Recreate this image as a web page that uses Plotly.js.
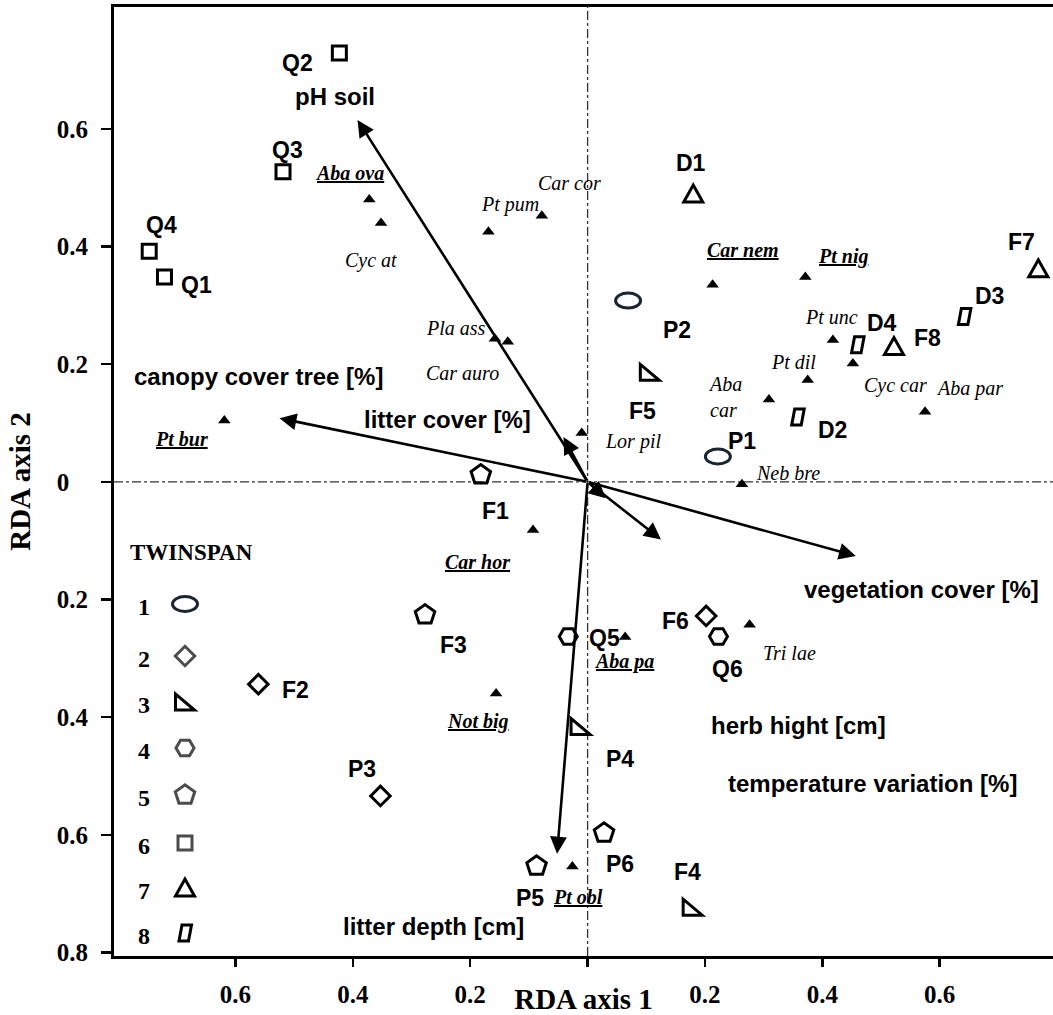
<!DOCTYPE html>
<html><head><meta charset="utf-8">
<script src="https://cdn.plot.ly/plotly-3.0.1.min.js"></script>
<style>html,body{margin:0;padding:0;background:#fff}#chart{width:1053px;height:1015px}</style>
</head><body><div id="chart"></div>
<script>
// ---- Sample (site) scores, TWINSPAN group of each sample ----
const siteNames = ['P2','P1','F2','P3','F6','F5','P4','F4','Q5','Q6','F1','F3','P6','P5','Q2','Q3','Q4','Q1','D1','F7','F8','D3','D4','D2'];
const siteGroup = [1,1,2,2,2,3,3,3,4,4,5,5,5,5,6,6,6,6,7,7,7,8,8,8];
const siteX = [0.069,0.222,-0.561,-0.353,0.202,0.106,-0.012,0.179,-0.033,0.223,-0.182,-0.277,0.028,-0.087,-0.423,-0.519,-0.747,-0.721,0.180,0.768,0.522,0.642,0.460,0.358];
const siteY = [0.308,0.043,-0.344,-0.534,-0.228,0.186,-0.416,-0.723,-0.263,-0.263,0.012,-0.226,-0.597,-0.653,0.729,0.527,0.392,0.348,0.489,0.362,0.230,0.281,0.233,0.110];

// ---- Species scores ----
const speciesNames = ['Aba ova','Cyc at','Pt pum','Car cor','Car nem','Pt nig','Pt unc','Cyc car','Pt dil','Aba car','Aba par','Neb bre','Tri lae','Pt bur','Pla ass','Car auro','Lor pil','Car hor','Aba pa','Not big','Pt obl'];
const speciesX = [-0.372,-0.352,-0.169,-0.078,0.213,0.371,0.418,0.452,0.375,0.309,0.575,0.263,0.276,-0.619,-0.158,-0.136,-0.010,-0.093,0.064,-0.156,-0.026];
const speciesY = [0.480,0.440,0.425,0.452,0.335,0.348,0.241,0.201,0.173,0.140,0.119,-0.004,-0.243,0.104,0.243,0.238,0.083,-0.082,-0.264,-0.360,-0.654];
const speciesUnderlined = [true,false,false,false,true,true,false,false,false,false,false,false,false,true,false,false,false,true,true,true,true];

// ---- Environmental variables (arrow tips) ----
const envNames = ['pH soil','canopy cover tree [%]','litter cover [%]','vegetation cover [%]','herb hight [cm]','temperature variation [%]','litter depth [cm]'];
const envX = [-0.392,-0.525,-0.041,0.457,0.031,0.125,-0.052];
const envY = [0.615,0.108,0.076,-0.126,-0.028,-0.098,-0.632];

// ---- Axis ticks ----
const xTickVals = [-0.6,-0.4,-0.2,0,0.2,0.4,0.6];
const xTickText = ['0.6','0.4','0.2','','0.2','0.4','0.6'];
const yTickVals = [-0.8,-0.6,-0.4,-0.2,0,0.2,0.4,0.6];
const yTickText = ['0.8','0.6','0.4','0.2','0\u00a0\u00a0\u00a0','0.2','0.4','0.6'];
const groupLabels = ['1','2','3','4','5','6','7','8'];

// ---- Layout / style (pixel offsets of labels, sizes) ----
const W = 1053, H = 1015;
const M = {l:114, r:0, t:7, b:59};
const xRange = [-0.807, 0.793], yRange = [-0.806, 0.807];
const pw = W - M.l - M.r, ph = H - M.t - M.b;
const px2x = px => xRange[0] + (px - M.l) / pw * (xRange[1] - xRange[0]);
const py2y = py => yRange[1] - (py - M.t) / ph * (yRange[1] - yRange[0]);
const STROKE = 3;

const siteLabelOff = {P2:[49,29],P1:[24,-16],F2:[37,6],P3:[-18,-27],F6:[-31,5],F5:[-7,39],P4:[39,32],F4:[-5,-35],
  Q5:[36,1],Q6:[9,32],F1:[15,36],F3:[28,30],P6:[16,31],P5:[-7,32],Q2:[-42,10],Q3:[4,-22],Q4:[12,-26],Q1:[32,8],
  D1:[-2,-31],F7:[-17,-27],F8:[34,-8],D3:[25,-20],D4:[24,-22],D2:[35,13]};
const speciesLabelOff = {'Aba ova':[-20,-26],'Cyc at':[-10,38],'Pt pum':[22,-27],'Car cor':[28,-33],'Car nem':[30,-35],
  'Pt nig':[38,-21],'Pt unc':[-1,-23],'Cyc car':[43,22],'Pt dil':[-14,-18],'Aba car':[-63,-2],'Aba par':[44,-23],
  'Neb bre':[46,-11],'Tri lae':[40,28],'Pt bur':[-43,18],'Pla ass':[-39,-11],'Car auro':[-45,31],'Lor pil':[51,9],
  'Car hor':[-56,32],'Aba pa':[-1,24],'Not big':[-18,28],'Pt obl':[6,30]};
const envLabelOff = [[-23,-23],[-21,-42],[-116,-18],[66,34],[193,227],[212,244],[-124,73]];

// native plotly symbols
const nativeSym = {2:{s:'diamond-open',size:15},4:{s:'hexagon2-open',size:18},5:{s:'pentagon-open',size:20.5},6:{s:'square-open',size:14}};
// custom glyphs drawn as pixel-sized shapes anchored at data values (y up)
const customSym = {
  1:{type:'circle', x0:-12.5, x1:12.5, y0:-7.5, y1:7.5, color:'#1b2433'},
  3:{type:'path', path:'M-9.5,8L-9.5,-8L9.5,-8Z', color:'#000'},
  7:{type:'path', path:'M-9.5,-8L9.5,-8L0,9Z', color:'#000'},
  8:{type:'path', path:'M-6,-8L3.5,-8L6.5,8L-3,8Z', color:'#000'}
};
const legendRowPx = [604,656,702,748,795,843,888,933];
const legendSymPx = 185, legendNumPx = 144;

function glyph(g, xa, ya){
  const c = customSym[g];
  const s = {type:c.type, xref:'x', yref:'y', xsizemode:'pixel', ysizemode:'pixel', xanchor:xa, yanchor:ya,
             line:{color:c.color, width:STROKE}, fillcolor:'rgba(0,0,0,0)', layer:'above'};
  if(c.type==='circle'){ s.x0=c.x0; s.x1=c.x1; s.y0=c.y0; s.y1=c.y1; } else { s.path=c.path; }
  return s;
}

const traces = [];
// species
traces.push({type:'scatter', mode:'markers', x:speciesX, y:speciesY, text:speciesNames, name:'species',
  marker:{symbol:'triangle-up', size:11, color:'#000'}, cliponaxis:false, hoverinfo:'text'});
// sites with native symbols
Object.keys(nativeSym).forEach(k=>{
  const g = +k, idx = siteGroup.map((v,i)=>v===g?i:-1).filter(i=>i>=0);
  traces.push({type:'scatter', mode:'markers', name:'group '+g,
    x:idx.map(i=>siteX[i]), y:idx.map(i=>siteY[i]), text:idx.map(i=>siteNames[i]),
    marker:{symbol:nativeSym[g].s, size:nativeSym[g].size, color:'#000', line:{width:STROKE, color:'#000'}},
    cliponaxis:false, hoverinfo:'text'});
});
// legend glyphs (native)
const legNative = [2,4,5,6];
traces.push({type:'scatter', mode:'markers', name:'legend',
  x:legNative.map(()=>px2x(legendSymPx)), y:legNative.map(g=>py2y(legendRowPx[g-1])),
  marker:{symbol:legNative.map(g=>nativeSym[g].s), size:legNative.map(g=>nativeSym[g].size), color:'#000', line:{width:STROKE,color:'#000'}},
  cliponaxis:false, hoverinfo:'skip'});

const shapes = [
  {type:'line', xref:'x', yref:'paper', x0:0, x1:0, y0:0, y1:1, line:{color:'#333', width:1.3, dash:'dashdot'}, layer:'below'},
  {type:'line', xref:'paper', yref:'y', x0:0, x1:1, y0:0, y1:0, line:{color:'#333', width:1.3, dash:'dashdot'}, layer:'below'}
];
siteNames.forEach((n,i)=>{ if(customSym[siteGroup[i]]) shapes.push(glyph(siteGroup[i], siteX[i], siteY[i])); });
[1,3,7,8].forEach(g=>shapes.push(glyph(g, px2x(legendSymPx), py2y(legendRowPx[g-1]))));

const ann = [];
// arrows
envNames.forEach((n,i)=>{
  ann.push({x:envX[i], y:envY[i], xref:'x', yref:'y', ax:0, ay:0, axref:'x', ayref:'y', text:'', showarrow:true,
    arrowhead:2, arrowsize:1.3, arrowwidth:2.6, arrowcolor:'#000', standoff:0, startstandoff:0});
  ann.push({x:envX[i], y:envY[i], xref:'x', yref:'y', text:n, showarrow:false, xanchor:'center', yanchor:'middle',
    xshift:envLabelOff[i][0], yshift:-envLabelOff[i][1],
    font:{family:'Liberation Sans, Arial, sans-serif', size:24, color:'#000', weight:'bold'}});
});
// site labels
siteNames.forEach((n,i)=>{
  const o = siteLabelOff[n];
  ann.push({x:siteX[i], y:siteY[i], xref:'x', yref:'y', text:n, showarrow:false, xanchor:'center', yanchor:'middle',
    xshift:o[0], yshift:-o[1], font:{family:'Liberation Sans, Arial, sans-serif', size:23, color:'#000', weight:'bold'}});
});
// species labels
speciesNames.forEach((n,i)=>{
  const o = speciesLabelOff[n];
  const u = speciesUnderlined[i];
  const multi = n==='Aba car';
  ann.push({x:speciesX[i], y:speciesY[i], xref:'x', yref:'y',
    text: u ? '<u>'+n+'</u>' : (multi ? n.replace(' ','<br>') : n),
    showarrow:false, xanchor: multi ? 'left' : 'center', align: multi ? 'left':'center', yanchor:'middle',
    xshift:o[0], yshift:-o[1],
    font:{family:'Liberation Serif, Times New Roman, serif', size:20, color:'#000', style:'italic', weight: u ? 'bold':'normal'}});
});
// TWINSPAN legend text
ann.push({x:px2x(191), y:py2y(552), xref:'x', yref:'y', text:'TWINSPAN', showarrow:false, xanchor:'center', yanchor:'middle',
  font:{family:'Liberation Serif, Times New Roman, serif', size:23, color:'#000', weight:'bold'}});
groupLabels.forEach((t,i)=>{
  ann.push({x:px2x(legendNumPx), y:py2y(legendRowPx[i]+3), xref:'x', yref:'y', text:t, showarrow:false, xanchor:'center', yanchor:'middle',
    font:{family:'Liberation Serif, Times New Roman, serif', size:24, color:'#000', weight:'bold'}});
});

const tickFont = {family:'Liberation Serif, Times New Roman, serif', size:25, color:'#000', weight:'bold'};
const titleFont = {family:'Liberation Serif, Times New Roman, serif', size:29, color:'#000', weight:'bold'};
const layout = {
  width:W, height:H, margin:M, paper_bgcolor:'#fff', plot_bgcolor:'#fff', showlegend:false,
  xaxis:{range:xRange, tickvals:xTickVals, ticktext:xTickText, ticks:'outside', ticklen:8, tickwidth:2.5, tickcolor:'#000',
    showline:true, linewidth:3, linecolor:'#000', mirror:true, showgrid:false, zeroline:false, tickfont:tickFont,
    ticklabelstandoff:6, title:{text:'RDA axis 1', font:titleFont, standoff:0}},
  yaxis:{range:yRange, tickvals:yTickVals, ticktext:yTickText, ticks:'outside', ticklen:10, tickwidth:2.5, tickcolor:'#000',
    showline:true, linewidth:3, linecolor:'#000', mirror:false, showgrid:false, zeroline:false, tickfont:tickFont,
    ticklabelstandoff:8, title:{text:'RDA axis 2', font:titleFont, standoff:18}},
  shapes:shapes, annotations:ann
};
Plotly.newPlot('chart', traces, layout, {displayModeBar:false, staticPlot:true});
</script></body></html>
